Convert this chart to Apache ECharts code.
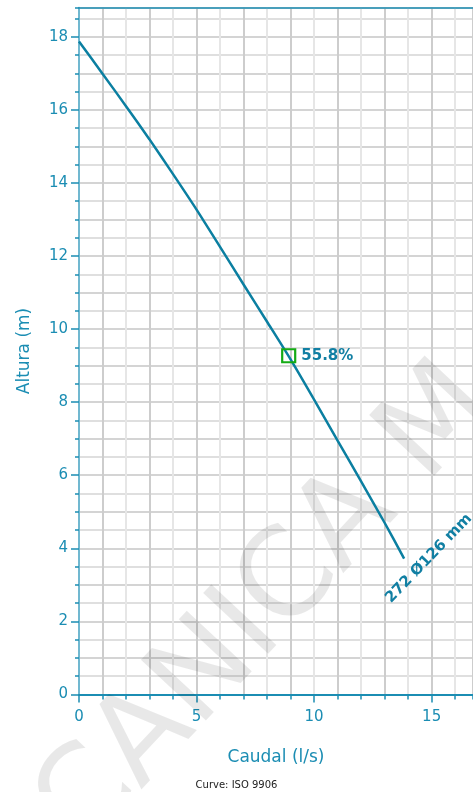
<!DOCTYPE html>
<html><head><meta charset="utf-8">
<script src="https://cdn.jsdelivr.net/npm/echarts@6/dist/echarts.min.js"></script>
<style>html,body{margin:0;padding:0;background:#fff}#c{width:473px;height:792px}</style>
</head><body><div id="c"></div>
<script>
const flow = [0, 1, 2, 3, 4, 5, 6, 7, 8, 9, 10, 11, 12, 13, 13.83];
const head = [17.87, 16.99, 16.1, 15.19, 14.24, 13.27, 12.25, 11.22, 10.2, 9.17, 8.07, 6.95, 5.83, 4.7, 3.72];
const bepPoint = [8.92, 9.27];
const bepLabel = '55.8%';
const curveLabel = '272 Ø126 mm';
const xTickLabels = [0, 5, 10, 15];
const yTickLabels = [0, 2, 4, 6, 8, 10, 12, 14, 16, 18];
const watermark = 'CANICA M';

const TEAL = '#1b8db3';
const CURVE = '#0b7fa1';
const LABEL = '#117fa3';
const FONT = 'DejaVu Sans';
const XMAX = 16.76, YMAX = 18.8;

const chart = echarts.init(document.getElementById('c'), null, {renderer: 'canvas'});

const option = {
  animation: false,
  backgroundColor: '#fff',
  grid: {left: 79, right: 0, top: 7.5, bottom: 97.5, containLabel: false},
  xAxis: [
    { type: 'value', min: 0, max: XMAX, interval: 1, position: 'bottom',
      axisLine: {show: true, lineStyle: {color: TEAL, width: 2}},
      axisTick: {show: true, length: 5, lineStyle: {color: TEAL, width: 1.5}},
      axisLabel: {show: false},
      splitLine: {show: true, lineStyle: {color: ['#e6e6e6', '#cdcdcd'], width: 2}} },
    { type: 'value', min: 0, max: XMAX, position: 'bottom',
      axisLine: {show: false},
      axisTick: {show: true, length: 8, customValues: xTickLabels, lineStyle: {color: TEAL, width: 1.5}},
      axisLabel: {show: true, customValues: xTickLabels, color: TEAL, fontFamily: FONT, fontSize: 15, margin: 15},
      splitLine: {show: false},
      name: 'Caudal (l/s)', nameLocation: 'middle', nameGap: 55,
      nameTextStyle: {color: TEAL, fontFamily: FONT, fontSize: 17} },
    { type: 'value', min: 0, max: XMAX, position: 'top',
      axisLine: {show: true, lineStyle: {color: TEAL, width: 1.5}},
      axisTick: {show: false}, axisLabel: {show: false}, splitLine: {show: false} }
  ],
  yAxis: [
    { type: 'value', min: 0, max: YMAX, interval: 0.5, position: 'left',
      axisLine: {show: true, lineStyle: {color: '#4aa8c8', width: 1.5}},
      axisTick: {show: true, length: 4, lineStyle: {color: TEAL, width: 1.5}},
      axisLabel: {show: false},
      splitLine: {show: true, lineStyle: {color: ['#d4d4d4', '#dfdfdf'], width: 2}} },
    { type: 'value', min: 0, max: YMAX, position: 'left',
      axisLine: {show: false},
      axisTick: {show: true, length: 8, customValues: yTickLabels, lineStyle: {color: TEAL, width: 1.5}},
      axisLabel: {show: true, customValues: yTickLabels, color: TEAL, fontFamily: FONT, fontSize: 15, margin: 11},
      splitLine: {show: false},
      name: 'Altura (m)', nameLocation: 'middle', nameGap: 46,
      nameTextStyle: {color: TEAL, fontFamily: FONT, fontSize: 17} }
  ],
  series: [
    { type: 'line', xAxisIndex: 0, yAxisIndex: 0, smooth: 0.25, showSymbol: false,
      data: flow.map((f, i) => [f, head[i]]),
      lineStyle: {color: CURVE, width: 2.5}, z: 5 },
    { type: 'scatter', xAxisIndex: 0, yAxisIndex: 0, symbol: 'rect', symbolSize: 13,
      data: [bepPoint],
      itemStyle: {color: 'rgba(0,0,0,0)', borderColor: '#14ab14', borderWidth: 2.2, opacity: 1},
      label: {show: true, position: 'right', distance: 5, formatter: bepLabel,
        color: LABEL, fontFamily: FONT, fontWeight: 'bold', fontSize: 15}, z: 6 }
  ]
};
chart.setOption(option);

const end = chart.convertToPixel({xAxisIndex: 0, yAxisIndex: 0}, [flow[flow.length - 1], head[head.length - 1]]);
chart.setOption({
  graphic: [
    { type: 'text', left: 'center', bottom: 2,
      style: {text: 'Curve: ISO 9906', fill: '#222', font: '10px ' + FONT} },
    { type: 'text', x: end[0] - 16, y: end[1] + 42, rotation: 46 * Math.PI / 180, z: 20,
      style: {text: curveLabel, fill: LABEL, font: 'bold 15px ' + FONT, textAlign: 'left', textVerticalAlign: 'middle'} },
    { type: 'text', x: 59.5, y: 831, rotation: 47 * Math.PI / 180, z: 1, silent: true,
      style: {text: watermark, fill: 'rgba(0,0,0,0.09)', font: '122px ' + FONT, textAlign: 'left', textVerticalAlign: 'middle'} }
  ]
});
</script>
</body></html>
